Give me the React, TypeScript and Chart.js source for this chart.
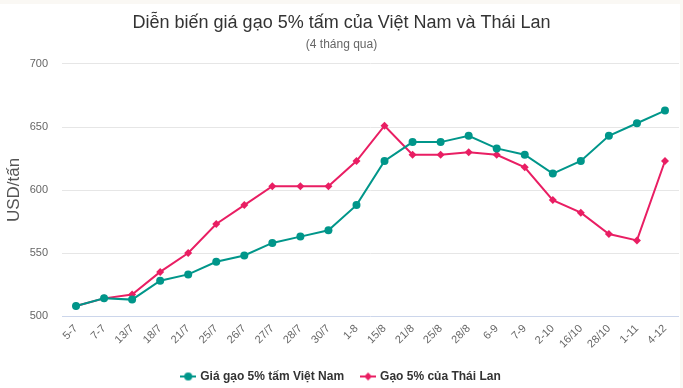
import React, { useEffect, useRef } from "react";
import { Chart, registerables } from "chart.js";

Chart.register(...registerables);

const categories = ["5-7", "7-7", "13/7", "18/7", "21/7", "25/7", "26/7", "27/7", "28/7", "30/7", "1-8", "15/8", "21/8", "25/8", "28/8", "6-9", "7-9", "2-10", "16/10", "28/10", "1-11", "4-12"];
const vietnam = [508, 514, 513, 528, 533, 543, 548, 558, 563, 568, 588, 623, 638, 638, 643, 633, 628, 613, 623, 643, 653, 663];
const thailand = [508, 514, 517, 535, 550, 573, 588, 603, 603, 603, 623, 651, 628, 628, 630, 628, 618, 592, 582, 565, 560, 623];
const yTicks = [500, 550, 600, 650, 700];

const TEAL = "#00968a";
const PINK = "#e91e63";
const FONT = "'Liberation Sans', Arial, sans-serif";

function legendIcon(color: string, diamond: boolean) {
  const c = document.createElement("canvas");
  c.width = 16;
  c.height = 10;
  const ctx = c.getContext("2d")!;
  ctx.strokeStyle = color;
  ctx.lineWidth = 2;
  ctx.beginPath();
  ctx.moveTo(0, 5);
  ctx.lineTo(16, 5);
  ctx.stroke();
  ctx.fillStyle = color;
  ctx.beginPath();
  if (diamond) {
    ctx.moveTo(8, 1);
    ctx.lineTo(12, 5);
    ctx.lineTo(8, 9);
    ctx.lineTo(4, 5);
    ctx.closePath();
  } else {
    ctx.arc(8, 5, 4, 0, Math.PI * 2);
  }
  ctx.fill();
  return c;
}

export default function App() {
  const ref = useRef<HTMLCanvasElement | null>(null);
  useEffect(() => {
    document.body.style.margin = "0";
    const chart = new Chart(ref.current!, {
      type: "line",
      data: {
        labels: categories,
        datasets: [
          {
            label: "Giá gạo 5% tấm Việt Nam",
            data: vietnam,
            borderColor: TEAL,
            backgroundColor: TEAL,
            borderWidth: 2,
            pointRadius: 4,
            pointHoverRadius: 4,
            pointStyle: "circle",
            pointBorderWidth: 0,
            tension: 0,
          },
          {
            label: "Gạo 5% của Thái Lan",
            data: thailand,
            borderColor: PINK,
            backgroundColor: PINK,
            borderWidth: 2,
            pointRadius: 4,
            pointHoverRadius: 4,
            pointStyle: "rectRot",
            pointBorderWidth: 0,
            tension: 0,
          },
        ],
      },
      options: {
        animation: false,
        responsive: false,
        layout: { padding: { left: 0, right: 0, top: 4, bottom: -4.5 } },
        plugins: {
          title: {
            display: true,
            text: "Diễn biến giá gạo 5% tấm của Việt Nam và Thái Lan",
            color: "#333333",
            font: { family: FONT, size: 18, weight: "normal" },
            padding: { top: 4, bottom: 4 },
          },
          subtitle: {
            display: true,
            text: "(4 tháng qua)",
            color: "#666666",
            font: { family: FONT, size: 12, weight: "normal" },
            padding: { top: 0, bottom: 12 },
          },
          legend: {
            position: "bottom",
            labels: {
              usePointStyle: true,
              generateLabels: (ch: any) =>
                ch.data.datasets.map((ds: any, i: number) => ({
                  text: ds.label,
                  pointStyle: legendIcon(ds.borderColor, i === 1),
                  fillStyle: ds.borderColor,
                  strokeStyle: ds.borderColor,
                  lineWidth: 0,
                  hidden: false,
                  datasetIndex: i,
                  fontColor: "#333333",
                })),
              color: "#333333",
              font: { family: FONT, size: 12, weight: "bold" },
              padding: 18,
            },
          },
          tooltip: { enabled: false },
        },
        scales: {
          x: {
            offset: true,
            grid: { display: false, drawTicks: false },
            border: { display: false },
            ticks: {
              color: "#666666",
              font: { family: FONT, size: 11 },
              maxRotation: 45,
              minRotation: 45,
              autoSkip: false,
              padding: 6,
            },
            afterFit: (axis: any) => {
              axis.height = 36.5;
            },
          },
          y: {
            min: 500,
            max: 700,
            afterBuildTicks: (axis: any) => {
              axis.ticks = yTicks.map((v) => ({ value: v }));
            },
            afterFit: (axis: any) => {
              axis.width = 62;
            },
            grid: {
              color: (ctx: any) => (ctx.tick && ctx.tick.value === 500 ? "#ccd6eb" : "#e6e6e6"),
              drawTicks: false,
              lineWidth: 1,
            },
            border: { display: false },
            ticks: {
              color: "#666666",
              font: { family: FONT, size: 11 },
              padding: 14,
            },
            title: {
              display: true,
              text: "USD/tấn",
              color: "#555555",
              font: { family: FONT, size: 17 },
              padding: { top: 4, bottom: 4 },
            },
          },
        },
      },
    });
    return () => chart.destroy();
  }, []);
  return (
    <div style={{ position: "fixed", inset: 0, background: "#faf8f4" }}>
      <div style={{ position: "absolute", left: 0, top: 4, width: 680, height: 384, background: "#ffffff", overflow: "hidden" }}>
        <canvas ref={ref} width={683} height={384} style={{ display: "block" }} />
      </div>
    </div>
  );
}
